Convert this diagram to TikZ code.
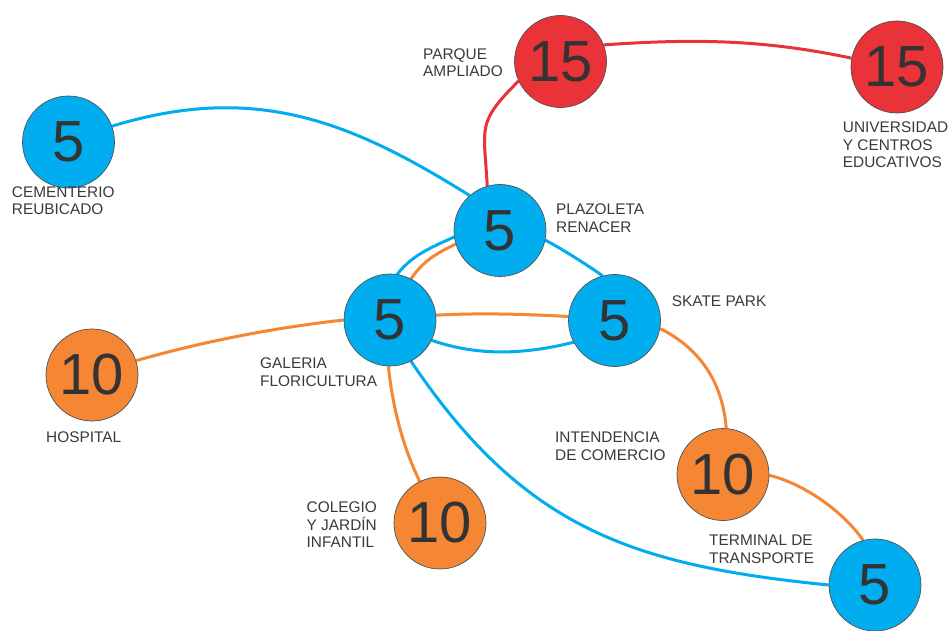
\documentclass[tikz,border=0pt]{standalone}
\usepackage{fontspec}
\setmainfont{Liberation Sans}
\usetikzlibrary{backgrounds}
\definecolor{cblue}{HTML}{00AEEF}
\definecolor{cred}{HTML}{EA3239}
\definecolor{corange}{HTML}{F58634}
\definecolor{ctext}{HTML}{3A3A3A}
\definecolor{cnum}{HTML}{333333}
\definecolor{cline}{HTML}{505050}
\begin{document}
\begin{tikzpicture}[x=1pt,y=1pt,
  hub/.style={circle, minimum size=92pt, inner sep=0pt, draw=cline, line width=0.7pt,
    text=cnum, font=\fontsize{58}{58}\selectfont},
  bluehub/.style={hub, fill=cblue},
  redhub/.style={hub, fill=cred},
  orangehub/.style={hub, fill=corange},
  lbl/.style={anchor=north west, inner sep=0pt, align=left, text=ctext,
    font=\fontsize{15.4}{17.4}\selectfont},
  link/.style={line width=3pt},
  bluelink/.style={link, draw=cblue},
  redlink/.style={link, draw=cred},
  orangelink/.style={link, draw=corange}
]
\useasboundingbox (0,0) rectangle (951,-631);

% hubs
\node[bluehub]   (cem)   at (68.5,-142)   {5};
\node[redhub]    (parq)  at (560.5,-61.5) {15};
\node[redhub]    (univ)  at (897,-67)     {15};
\node[bluehub]   (plaz)  at (500,-230.5)  {5};
\node[bluehub]   (gal)   at (390,-320)    {5};
\node[bluehub]   (skate) at (614.5,-320.5){5};
\node[orangehub] (hosp)  at (92,-375)     {10};
\node[orangehub] (coleg) at (440,-523)    {10};
\node[orangehub] (inten) at (723,-474.5)  {10};
\node[bluehub]   (term)  at (875,-585)    {5};

% labels
\node[lbl] (lparq)  at (423,-48.3)   {PARQUE\\AMPLIADO};
\node[lbl] (lcem)   at (11.7,-186.5) {CEMENTERIO\\REUBICADO};
\node[lbl] (luniv)  at (842.7,-121.7){UNIVERSIDAD\\Y CENTROS\\EDUCATIVOS};
\node[lbl] (lplaz)  at (556,-204)    {PLAZOLETA\\RENACER};
\node[lbl] (lskate) at (671.7,-295.7){SKATE PARK};
\node[lbl] (lgal)   at (260,-357.7)  {GALERIA\\FLORICULTURA};
\node[lbl] (lhosp)  at (46,-431.7)   {HOSPITAL};
\node[lbl] (linten) at (555,-432)    {INTENDENCIA\\DE COMERCIO};
\node[lbl] (lcoleg) at (306.5,-502)  {COLEGIO\\Y JARDÍN\\INFANTIL};
\node[lbl] (lterm)  at (709,-535)    {TERMINAL DE\\TRANSPORTE};

% links
\begin{scope}[on background layer]
\fill[white] (0,0) rectangle (951,-631);
\draw[bluelink] (cem.20) .. controls +(17:150) and +(148:140) .. (plaz.131);
\draw[redlink] (parq.205) .. controls +(-135:60) and +(93:60) .. (plaz.106);
\draw[redlink] (parq.21) .. controls +(4:90) and +(168:90) .. (univ.169);
\draw[bluelink] (plaz.-12) .. controls +(-28:20) and +(145:20) .. (skate.105);
\draw[bluelink] (plaz.188) .. controls +(-155:25) and +(52:25) .. (gal.81);
\draw[orangelink] (plaz.197) .. controls +(-154:22) and +(55:22) .. (gal.63);
\draw[orangelink] (gal.6) .. controls +(3:45) and +(177:45) .. (skate.175);
\draw[bluelink] (gal.-26) .. controls +(-19:50) and +(194:50) .. (skate.208);
\draw[orangelink] (hosp.18.5) .. controls +(16:70) and +(186.4:70) .. (gal.180);
\draw[orangelink] (gal.-92.5) .. controls +(-84:40) and +(116:40) .. (coleg.116);
\draw[bluelink] (gal.-63) .. controls +(-56:200) and +(174.3:200) .. (term.180);
\draw[orangelink] (skate.-10) .. controls +(-26.6:50) and +(94.5:40) .. (inten.86);
\draw[orangelink] (inten.-1) .. controls +(-14:40) and +(124:30) .. (term.105);
\end{scope}
\end{tikzpicture}
\end{document}
